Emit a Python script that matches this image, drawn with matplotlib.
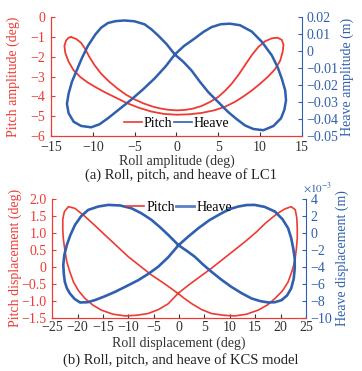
import numpy as np
import matplotlib
matplotlib.use("Agg")
import matplotlib.pyplot as plt
from matplotlib.lines import Line2D

plt.rcParams['font.family'] = ['Liberation Serif', 'DejaVu Serif']
plt.rcParams['mathtext.fontset'] = 'stix'
plt.rcParams['font.size'] = 10

RED = '#ee3a33'
BLUE = '#2f5fae'
GREY = '#333333'

# ---- (a) LC1 : roll vs pitch / heave amplitude ----
roll_a_pitch = [-12.6, -12.0, -11.4, -10.9, -10.4, -9.8, -9.0, -8.0, -7.0, -6.0, -5.0, -4.0, -3.0,
                -2.0, -1.0, 0.0, 1.0, 2.0, 3.0, 4.0, 5.0, 5.8, 6.6, 7.4, 8.2, 9.0, 9.8, 10.6, 11.4,
                12.1, 12.6, 12.8, 12.7, 12.4, 11.8, 11.0, 10.0, 9.0, 8.0, 7.0, 5.8, 4.5, 3.0, 1.5,
                0.0, -1.5, -3.0, -4.5, -6.0, -7.4, -8.6, -9.6, -10.6, -11.5, -12.3, -12.9, -13.3,
                -13.4, -13.2, -12.9, -12.6]
pitch_a = [-1.01, -1.10, -1.30, -1.62, -2.02, -2.42, -2.86, -3.27, -3.62, -3.92, -4.15, -4.34, -4.49,
           -4.60, -4.67, -4.70, -4.68, -4.61, -4.48, -4.28, -4.02, -3.72, -3.36, -2.92, -2.42, -1.92,
           -1.50, -1.22, -1.07, -1.04, -1.15, -1.40, -1.75, -2.20, -2.62, -2.98, -3.36, -3.70, -4.00,
           -4.27, -4.52, -4.70, -4.83, -4.90, -4.92, -4.88, -4.76, -4.57, -4.32, -4.03, -3.78, -3.55,
           -3.30, -3.02, -2.68, -2.25, -1.80, -1.45, -1.18, -1.04, -1.01]

roll_a_heave = [-0.2, -1.2, -2.2, -3.0, -3.8, -5.0, -6.2, -7.3, -8.2, -9.0, -9.7, -10.6, -11.3, -11.9,
                -12.5, -12.9, -13.1, -12.9, -12.3, -11.4, -10.2, -9.2, -8.2, -6.8, -5.4, -4.0, -2.6,
                -1.3, -0.2, 0.9, 2.2, 3.2, 4.2, 5.3, 6.4, 7.6, 9.0, 10.2, 11.4, 12.1, 12.6, 13.0, 13.1,
                12.9, 12.5, 11.6, 10.4, 9.2, 8.2, 7.2, 6.2, 5.0, 3.8, 2.8, 1.8, 0.8, -0.2]
heave_a = [-0.0020, 0.0042, 0.0092, 0.0128, 0.0157, 0.0175, 0.0180, 0.0176, 0.0165, 0.0138, 0.0098,
           0.0030, -0.0040, -0.0110, -0.0180, -0.0250, -0.0310, -0.0365, -0.0415, -0.0440, -0.0448,
           -0.0430, -0.0395, -0.0340, -0.0285, -0.0225, -0.0160, -0.0090, -0.0020, 0.0030, 0.0075,
           0.0112, 0.0141, 0.0158, 0.0161, 0.0152, 0.0115, 0.0055, -0.0025, -0.0095, -0.0163, -0.0230,
           -0.0290, -0.0345, -0.0395, -0.0440, -0.0465, -0.0458, -0.0437, -0.0400, -0.0359, -0.0300,
           -0.0241, -0.0180, -0.0114, -0.0062, -0.0020]

# ---- (b) KCS model : roll vs pitch / heave displacement ----
roll_b_pitch = [-0.2, -2.7, -5.4, -7.7, -10.0, -12.3, -14.6, -16.6, -18.5, -20.5, -21.8, -22.6, -22.9,
                -22.9, -22.8, -22.5, -22.1, -21.5, -20.8, -19.8, -18.5, -17.0, -15.3, -13.0, -10.6,
                -8.3, -6.1, -4.0, -2.1, -0.2, 2.0, 4.2, 6.4, 8.6, 10.8, 13.0, 15.2, 17.0, 18.2, 19.5,
                20.8, 22.1, 22.9, 23.2, 23.3, 23.3, 23.1, 22.8, 22.2, 21.5, 20.4, 18.9, 17.4, 15.6,
                13.3, 11.0, 8.7, 6.4, 4.4, 2.5, 1.0, -0.2]
pitch_b = [-0.78, -0.51, -0.24, 0.03, 0.30, 0.62, 0.94, 1.22, 1.48, 1.72, 1.77, 1.62, 1.40, 1.10, 0.84,
           0.50, 0.15, -0.15, -0.44, -0.70, -0.93, -1.12, -1.27, -1.39, -1.44, -1.42, -1.37, -1.25,
           -1.08, -0.78, -0.52, -0.28, -0.04, 0.22, 0.48, 0.74, 1.02, 1.28, 1.43, 1.58, 1.70, 1.77,
           1.68, 1.45, 1.15, 0.84, 0.50, 0.15, -0.15, -0.44, -0.70, -0.93, -1.12, -1.27, -1.39, -1.44,
           -1.42, -1.37, -1.25, -1.08, -0.92, -0.78]

roll_b_heave = [-0.1, -2.1, -3.8, -5.4, -7.4, -9.4, -11.6, -13.9, -15.9, -17.9, -19.3, -20.5, -21.4,
                -22.1, -22.6, -22.8, -22.7, -22.5, -22.1, -21.5, -20.6, -19.5, -18.0, -16.6, -14.6,
                -12.6, -10.3, -8.0, -6.0, -4.1, -2.1, -0.1, 1.8, 3.8, 6.0, 8.4, 10.0, 11.7, 13.3, 14.9,
                16.9, 18.9, 20.4, 21.5, 22.1, 22.5, 22.8, 22.8, 22.6, 22.1, 21.3, 20.2, 18.9, 17.6,
                16.0, 14.3, 12.3, 10.3, 8.3, 6.4, 4.7, 3.1, 1.5, -0.1]
heave_b_milli = [-1.45, -0.25, 0.70, 1.52, 2.30, 2.90, 3.22, 3.29, 3.10, 2.70, 1.95, 0.93, -0.25, -1.42,
                 -2.60, -3.78, -4.80, -5.75, -6.50, -7.12, -7.75, -8.18, -8.15, -7.91, -7.45, -6.93,
                 -6.25, -5.55, -4.80, -3.98, -2.85, -1.45, -0.45, 0.54, 1.50, 2.31, 2.80, 3.10, 3.27,
                 3.29, 3.05, 2.51, 1.60, 0.54, -0.60, -1.81, -3.00, -4.17, -5.40, -6.53, -7.35, -7.91,
                 -8.15, -8.18, -8.02, -7.71, -7.08, -6.34, -5.48, -4.57, -3.70, -2.80, -2.10, -1.45]
heave_b = np.array(heave_b_milli) * 1e-3

# ---- ticks ----
xticks_a = [-15, -10, -5, 0, 5, 10, 15]
xlabels_a = ['\u221215', '\u221210', '\u22125', '0', '5', '10', '15']
yticks_a = [0, -1, -2, -3, -4, -5, -6]
ylabels_a = ['0', '\u22121', '\u22122', '\u22123', '\u22124', '\u22125', '\u22126']
y2ticks_a = [0.02, 0.01, 0, -0.01, -0.02, -0.03, -0.04, -0.05]
y2labels_a = ['0.02', '0.01', '0', '\u22120.01', '\u22120.02', '\u22120.03', '\u22120.04', '\u22120.05']

xticks_b = [-25, -20, -15, -10, -5, 0, 5, 10, 15, 20, 25]
xlabels_b = ['\u221225', '\u221220', '\u221215', '\u221210', '\u22125', '0', '5', '10', '15', '20', '25']
yticks_b = [2.0, 1.5, 1.0, 0.5, 0, -0.5, -1.0, -1.5]
ylabels_b = ['2.0', '1.5', '1.0', '0.5', '0', '\u22120.5', '\u22121.0', '\u22121.5']
y2ticks_b = [0.004, 0.002, 0, -0.002, -0.004, -0.006, -0.008, -0.010]
y2labels_b = ['4', '2', '0', '\u22122', '\u22124', '\u22126', '\u22128', '\u221210']


def style(ax, ax2, xpad):
    ax.spines['top'].set_visible(False)
    ax2.spines['top'].set_visible(False)
    ax.spines['left'].set_color(RED)
    ax2.spines['left'].set_color(RED)
    ax.spines['bottom'].set_color(RED)
    ax2.spines['bottom'].set_color(RED)
    ax.spines['right'].set_visible(False)
    ax2.spines['right'].set_color(BLUE)
    ax.tick_params(axis='y', direction='in', length=3, colors=RED, labelsize=10, pad=4)
    ax.tick_params(axis='x', direction='in', length=3, color=GREY, labelcolor=GREY, labelsize=10,
                   pad=xpad)
    ax2.tick_params(axis='y', direction='in', length=3, colors=BLUE, labelsize=10)


fig = plt.figure(figsize=(3.62, 3.71), dpi=100)

# panel (a)
ax = fig.add_axes([0.141, 0.633, 0.693, 0.321])
ax2 = ax.twinx()
ax.plot(roll_a_pitch, pitch_a, color=RED, lw=1.3)
ax2.plot(roll_a_heave, heave_a, color=BLUE, lw=1.8)
ax.set_xlim(-15, 15)
ax.set_ylim(-6, 0)
ax2.set_ylim(-0.05, 0.02)
ax.set_xticks(xticks_a, xlabels_a)
ax.set_yticks(yticks_a, ylabels_a)
ax2.set_yticks(y2ticks_a, y2labels_a)
style(ax, ax2, 3.8)
ax.set_xlabel('Roll amplitude (deg)', color=GREY)
ax.xaxis.set_label_coords(0.5, -0.155)
ax.set_ylabel('Pitch amplitude (deg)', color=RED)
ax.yaxis.set_label_coords(-0.125, 0.5)
ax2.set_ylabel('Heave amplitude (m)', color=BLUE)
ax2.yaxis.set_label_coords(1.155, 0.5)
handles = [Line2D([], [], color=RED, lw=1.2), Line2D([], [], color=BLUE, lw=1.2)]
ax2.legend(handles, ['Pitch', 'Heave'], loc='center', bbox_to_anchor=(0.5, 0.11), ncol=2,
           frameon=False, handlelength=1.3, handletextpad=0.15, columnspacing=0.1,
           borderpad=0, fontsize=10)
fig.text(0.5, 0.529, '(a) Roll, pitch, and heave of LC1', ha='center', va='center',
         fontsize=10.5, color='#222222')

# panel (b)
bx = fig.add_axes([0.144, 0.143, 0.701, 0.321])
bx2 = bx.twinx()
bx.plot(roll_b_pitch, pitch_b, color=RED, lw=1.2)
bx2.plot(roll_b_heave, heave_b, color=BLUE, lw=1.9)
bx.set_xlim(-25, 25)
bx.set_ylim(-1.5, 2.0)
bx2.set_ylim(-0.010, 0.004)
bx.set_xticks(xticks_b, xlabels_b)
bx.set_yticks(yticks_b, ylabels_b)
bx2.set_yticks(y2ticks_b, y2labels_b)
style(bx, bx2, 2.5)
bx.set_xlabel('Roll displacement (deg)', color=GREY)
bx.xaxis.set_label_coords(0.5, -0.16)
bx.set_ylabel('Pitch displacement (deg)', color=RED)
bx.yaxis.set_label_coords(-0.118, 0.5)
bx2.set_ylabel('Heave displacement (m)', color=BLUE)
bx2.yaxis.set_label_coords(1.118, 0.5)
bx2.text(0.99, 1.03, r'$\times10^{-3}$', transform=bx2.transAxes, ha='left', va='bottom',
         color=BLUE, fontsize=8)
handles_b = [Line2D([], [], color=RED, lw=1.2), Line2D([], [], color='#5b80c4', lw=2.0)]
bx2.legend(handles_b, ['Pitch', 'Heave'], loc='center', bbox_to_anchor=(0.5, 0.93), ncol=2,
           frameon=False, handlelength=1.3, handletextpad=0.15, columnspacing=0.1,
           borderpad=0, fontsize=10)
fig.text(0.5, 0.030, '(b) Roll, pitch, and heave of KCS model', ha='center', va='center',
         fontsize=10.5, color='#222222')

fig.savefig('out.png', dpi=100)
